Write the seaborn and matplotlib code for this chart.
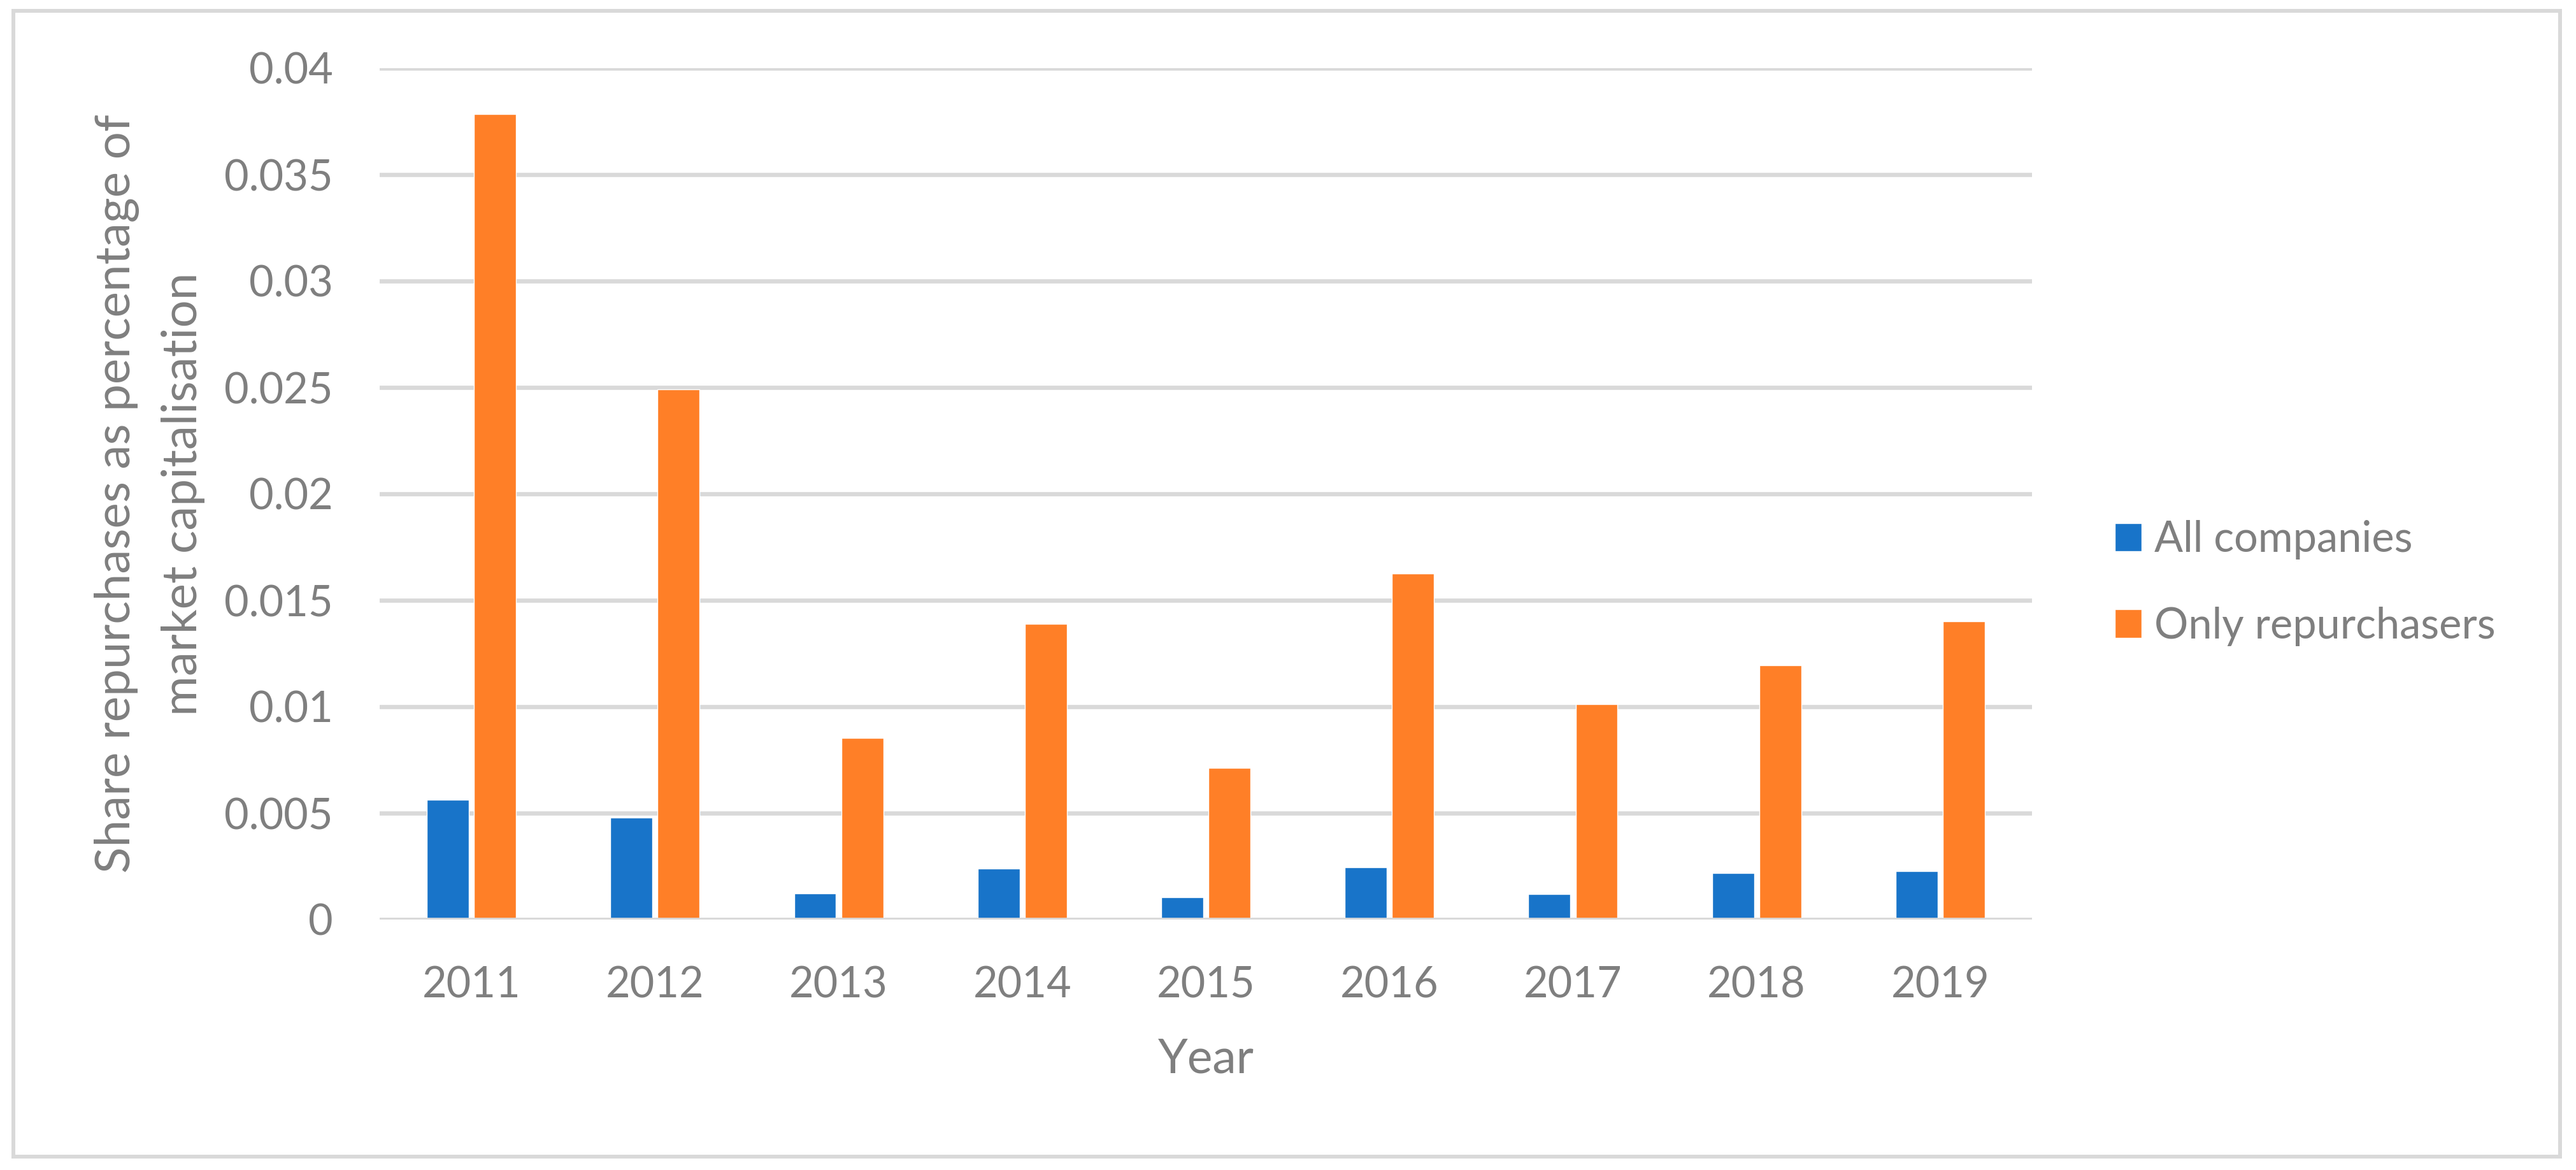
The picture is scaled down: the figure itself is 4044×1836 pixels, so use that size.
import pandas as pd
import seaborn as sns
import matplotlib.pyplot as plt
from matplotlib.patches import Rectangle

# 데이터
years = ['2011', '2012', '2013', '2014', '2015', '2016', '2017', '2018', '2019']
all_companies = [0.00563, 0.00479, 0.00122, 0.0024, 0.00105, 0.00245, 0.00119, 0.00218, 0.00228]
only_repurchasers = [0.03784, 0.02491, 0.00852, 0.01389, 0.00712, 0.01625, 0.01011, 0.01195, 0.01401]
series_names = ['All companies', 'Only repurchasers']
y_ticks = [0, 0.005, 0.01, 0.015, 0.02, 0.025, 0.03, 0.035, 0.04]
y_tick_labels = ['0', '0.005', '0.01', '0.015', '0.02', '0.025', '0.03', '0.035', '0.04']

df = pd.DataFrame({
    'Year': years * 2,
    'value': all_companies + only_repurchasers,
    'series': [series_names[0]] * len(years) + [series_names[1]] * len(years),
})

sns.set_style('white')
plt.rcParams['font.family'] = ['Lato', 'DejaVu Sans']
text_color = '#7F7F7F'
grid_color = '#D9D9D9'

W, H = 4044, 1836
fig = plt.figure(figsize=(W / 100, H / 100), dpi=100)
ax = fig.add_axes([596 / W, 1 - 1443 / H, (3190 - 596) / W, (1443 - 107) / H])

sns.barplot(data=df, x='Year', y='value', hue='series', order=years,
            hue_order=series_names, palette=['#1874C9', '#FF7F27'],
            saturation=1, width=0.514, gap=0.11, errorbar=None, ax=ax)

ax.set_ylim(0, 0.04)
ax.set_yticks(y_ticks)
ax.set_yticklabels(y_tick_labels)
ax.yaxis.grid(True, color=grid_color, linewidth=4.8)
ax.set_axisbelow(True)
ax.axhline(0, color=grid_color, linewidth=4.8, zorder=5)
for s in ax.spines.values():
    s.set_visible(False)
ax.tick_params(axis='both', length=0, labelsize=48, labelcolor=text_color)
ax.tick_params(axis='y', pad=53)
ax.tick_params(axis='x', pad=52)

ax.set_xlabel('Year', fontsize=54, color=text_color, va='top')
ax.xaxis.set_label_coords(0.5, -0.138)
ax.set_ylabel('Share repurchases as percentage of\nmarket capitalisation',
              fontsize=55, color=text_color, linespacing=1.6)
ax.yaxis.set_label_coords(-0.1056, 0.5)

handles, labels = ax.get_legend_handles_labels()
ax.legend(handles, labels, loc='center left', bbox_to_anchor=(3320 / W, 1 - 915 / H),
          bbox_transform=fig.transFigure, frameon=False, fontsize=48,
          labelcolor=text_color, handlelength=0.63, handleheight=0.65,
          handletextpad=0.3, labelspacing=1.1, borderpad=0, borderaxespad=0)

fig.add_artist(Rectangle((21 / W, 1 - 1815 / H), (4019 - 21) / W, (1815 - 17) / H,
                         transform=fig.transFigure, fill=False,
                         edgecolor=grid_color, linewidth=4.3))

plt.savefig('out.png', dpi=100)
